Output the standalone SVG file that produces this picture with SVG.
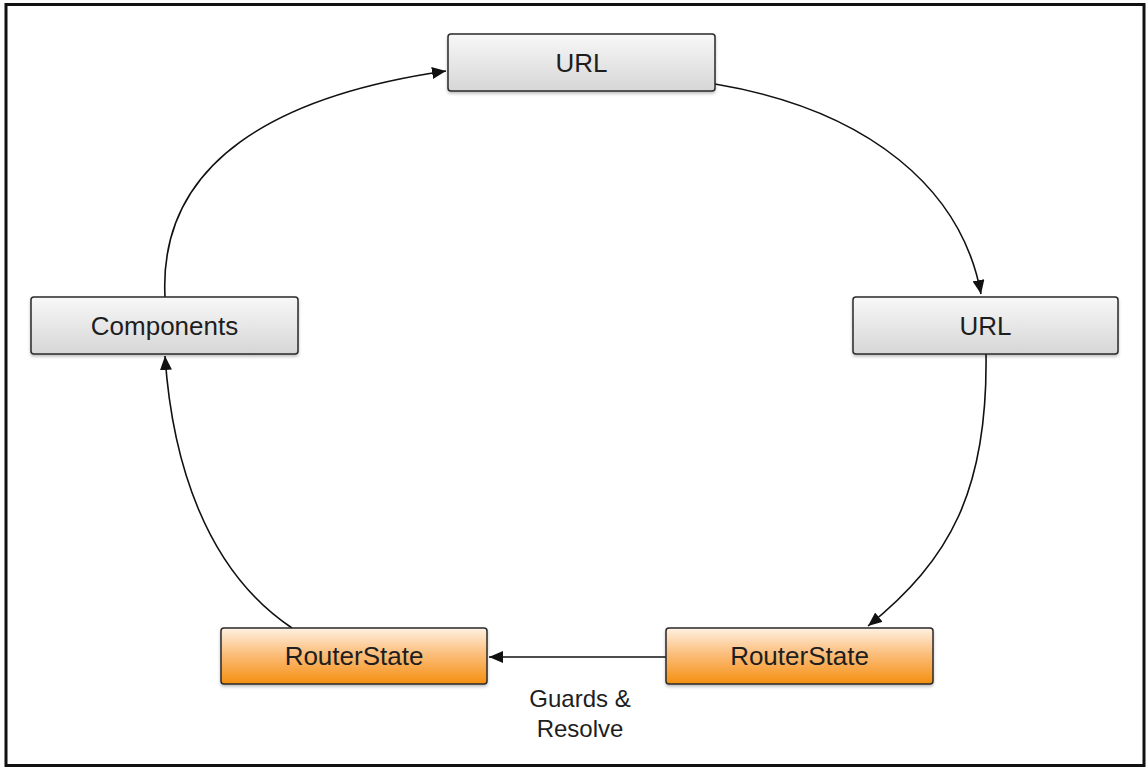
<svg xmlns="http://www.w3.org/2000/svg" width="1147" height="768" viewBox="0 0 1147 768">
<style>
.node rect{stroke:#2a2a2a;stroke-width:1.5}
.grey rect{fill:url(#gGrey)}
.orange rect{fill:url(#gOrange)}
.node text{font-family:"Liberation Sans",Arial,sans-serif;font-size:26px;fill:#1e1e1e;text-anchor:middle}
.conn path{fill:none;stroke:#111;stroke-width:1.6}
.lbl{font-family:"Liberation Sans",Arial,sans-serif;font-size:24px;fill:#1e1e1e;text-anchor:middle}
</style>
<defs>
<linearGradient id="gGrey" x1="0" y1="0" x2="0" y2="1">
<stop offset="0" stop-color="#f8f8f8"/>
<stop offset="1" stop-color="#d6d6d6"/>
</linearGradient>
<linearGradient id="gOrange" x1="0" y1="0" x2="0" y2="1">
<stop offset="0" stop-color="#fff1e3"/>
<stop offset="0.45" stop-color="#fbbf7e"/>
<stop offset="1" stop-color="#f58f10"/>
</linearGradient>
<filter id="sh" x="-5%" y="-10%" width="110%" height="130%">
<feDropShadow dx="0" dy="2" stdDeviation="1.5" flood-color="#000" flood-opacity="0.25"/>
</filter>
<marker id="arr" markerUnits="userSpaceOnUse" markerWidth="16" markerHeight="12" refX="14" refY="6" orient="auto">
<path d="M0,0 L14,6 L0,12 Z" fill="#111"/>
</marker>
</defs>
<rect x="0" y="0" width="1147" height="768" fill="#fff"/>
<rect x="6" y="4.5" width="1138" height="761" fill="none" stroke="#111" stroke-width="3"/>
<g class="conn">
<path d="M165,297 C158,160 280,95 446,71" marker-end="url(#arr)"/>
<path d="M715,84 C870,110 962,190 981,294" marker-end="url(#arr)"/>
<path d="M986,354 C988,490 950,560 868,626" marker-end="url(#arr)"/>
<path d="M292,628 C205,570 172,460 165,356" marker-end="url(#arr)"/>
<path d="M666,657 L489,657" marker-end="url(#arr)"/>
</g>
<text class="lbl" x="580" y="707">Guards &amp;</text>
<text class="lbl" x="580" y="737">Resolve</text>
<g id="url-top" class="node grey">
<rect x="448" y="34" width="267" height="57" rx="3" filter="url(#sh)"/>
<text x="581.5" y="71.5">URL</text>
</g>
<g id="components" class="node grey">
<rect x="31" y="297" width="267" height="57" rx="3" filter="url(#sh)"/>
<text x="164.5" y="335">Components</text>
</g>
<g id="url-right" class="node grey">
<rect x="853" y="297" width="265" height="57" rx="3" filter="url(#sh)"/>
<text x="985.5" y="335">URL</text>
</g>
<g id="routerstate-left" class="node orange">
<rect x="221" y="628" width="266" height="56" rx="3" filter="url(#sh)"/>
<text x="354" y="665">RouterState</text>
</g>
<g id="routerstate-right" class="node orange">
<rect x="666" y="628" width="267" height="56" rx="3" filter="url(#sh)"/>
<text x="799.5" y="665">RouterState</text>
</g>
</svg>
